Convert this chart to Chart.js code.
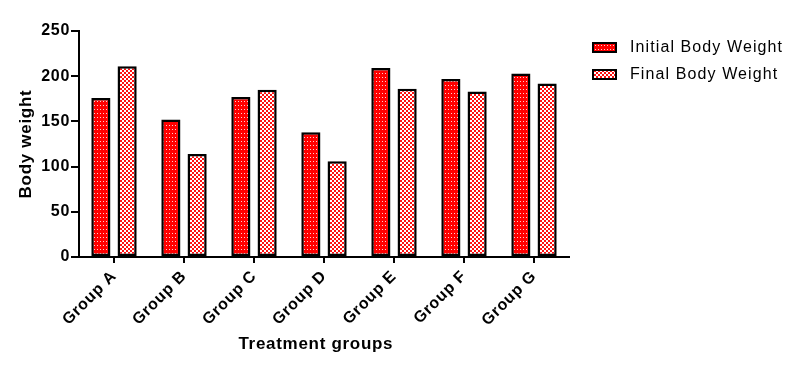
<!DOCTYPE html>
<html>
<head>
<meta charset="utf-8">
<script src="https://cdn.jsdelivr.net/npm/chart.js@4/dist/chart.umd.min.js"></script>
<style>
  html, body { margin: 0; padding: 0; background: #fff; }
  #wrap { width: 800px; height: 369px; position: relative; }
</style>
</head>
<body>
<div id="wrap"><canvas id="c" width="800" height="369"></canvas></div>
<script>
// ---- data ----
const categories = ['Group A', 'Group B', 'Group C', 'Group D', 'Group E', 'Group F', 'Group G'];
const initialBodyWeight = [176, 152, 177, 138, 209, 197, 203];
const finalBodyWeight = [211, 114, 185, 106, 186, 183, 192];
const seriesNames = ['Initial Body Weight', 'Final Body Weight'];
const yTicks = [0, 50, 100, 150, 200, 250];
const xTitle = 'Treatment groups';
const yTitle = 'Body weight';

const FONT = '"Liberation Sans", Arial, sans-serif';
const SPACING = '0.7px';

function makePattern(kind) {
  const c = document.createElement('canvas');
  const g = c.getContext('2d');
  if (kind === 'dots') {
    c.width = 3; c.height = 4;
    g.fillStyle = '#ff0000'; g.fillRect(0, 0, 3, 4);
    g.fillStyle = '#ffd0d0'; g.fillRect(1, 1, 1, 1);
  } else {
    c.width = 4; c.height = 4;
    g.fillStyle = '#ffffff'; g.fillRect(0, 0, 4, 4);
    g.fillStyle = '#ff1010';
    g.fillRect(0, 0, 2, 2); g.fillRect(2, 2, 2, 2);
  }
  return document.getElementById('c').getContext('2d').createPattern(c, 'repeat');
}
const patInitial = makePattern('dots');
const patFinal = makePattern('check');

const spacingPlugin = {
  id: 'spacing',
  beforeUpdate(chart) { chart.ctx.letterSpacing = SPACING; },
  beforeLayout(chart) { chart.ctx.letterSpacing = SPACING; },
  beforeDraw(chart) { chart.ctx.letterSpacing = SPACING; }
};

const legendPlugin = {
  id: 'sideLegend',
  afterDraw(chart) {
    const ctx = chart.ctx;
    ctx.save();
    const x0 = chart.chartArea.right + 23;
    const y0 = chart.chartArea.top + 11;
    chart.data.datasets.forEach((ds, i) => {
      const y = y0 + i * 27;
      ctx.fillStyle = ds.backgroundColor;
      ctx.fillRect(x0, y, 25, 11);
      ctx.lineWidth = 2;
      ctx.strokeStyle = '#000';
      ctx.strokeRect(x0 + 1, y + 1, 23, 9);
      ctx.letterSpacing = '1.1px';
      ctx.font = '16px ' + FONT;
      ctx.fillStyle = '#000';
      ctx.textBaseline = 'middle';
      ctx.textAlign = 'left';
      ctx.fillText(ds.label, x0 + 38, y + 6);
    });
    ctx.restore();
  }
};

Chart.defaults.color = '#000';
Chart.defaults.font.family = FONT;

new Chart(document.getElementById('c'), {
  type: 'bar',
  data: {
    labels: categories,
    datasets: [
      { label: seriesNames[0], data: initialBodyWeight, backgroundColor: patInitial,
        borderColor: '#000', borderWidth: 2.5, borderSkipped: false },
      { label: seriesNames[1], data: finalBodyWeight, backgroundColor: patFinal,
        borderColor: '#000', borderWidth: 2.5, borderSkipped: false }
    ]
  },
  options: {
    responsive: false,
    animation: false,
    devicePixelRatio: 1,
    layout: { padding: { top: 31, right: 231, bottom: 0, left: 0 } },
    datasets: { bar: { categoryPercentage: 0.75, barPercentage: 0.73 } },
    plugins: {
      legend: { display: false },
      tooltip: { enabled: false }
    },
    scales: {
      x: {
        grid: { display: true, drawOnChartArea: false, drawTicks: true, offset: false,
                tickLength: 6, color: '#000', lineWidth: 2 },
        border: { display: true, color: '#000', width: 2 },
        ticks: { minRotation: 45, maxRotation: 45, autoSkip: false, padding: 4,
                 font: { size: 16, weight: 'bold' } },
        title: { display: true, text: xTitle + '   ', font: { size: 17, weight: 'bold' },
                 padding: { top: 0, bottom: 14 } },
        afterFit(scale) { scale.height = 112; }
      },
      y: {
        min: 0, max: 250,
        afterBuildTicks(scale) { scale.ticks = yTicks.map(v => ({ value: v })); },
        grid: { display: true, drawOnChartArea: false, drawTicks: true,
                tickLength: 8, color: '#000', lineWidth: 2 },
        border: { display: true, color: '#000', width: 2 },
        ticks: { padding: 1, font: { size: 16, weight: 'bold' } },
        title: { display: true, text: yTitle, font: { size: 17, weight: 'bold' },
                 padding: { top: 16, bottom: 0 } },
        afterFit(scale) { scale.width = 79; }
      }
    }
  },
  plugins: [spacingPlugin, legendPlugin]
});
</script>
</body>
</html>
